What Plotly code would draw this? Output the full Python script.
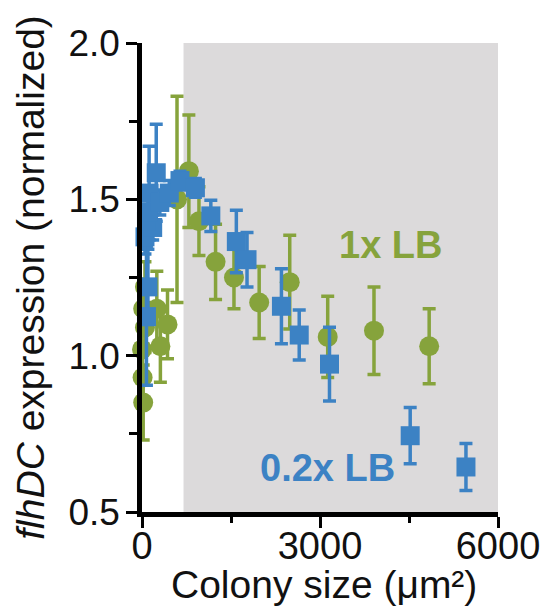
import plotly.graph_objects as go

# 1x LB (green circles)
lb1_x = [20, 10, 0, 50, 20, 50, 250, 430, 310, 590, 790, 960, 1240, 1550, 1975, 2490, 3130, 3910, 4840]
lb1_y = [0.85, 0.93, 1.02, 1.09, 1.15, 1.22, 1.15, 1.10, 1.03, 1.50, 1.59, 1.43, 1.30, 1.25, 1.17, 1.235, 1.06, 1.08, 1.03]
lb1_err = [0.12, 0.10, 0.10, 0.08, 0.08, 0.08, 0.12, 0.11, 0.115, 0.33, 0.18, 0.11, 0.12, 0.10, 0.115, 0.15, 0.13, 0.14, 0.12]

# 0.2x LB (blue squares)
lb02_x = [75, 100, 50, 180, 75, 100, 120, 240, 300, 460, 640, 900, 1160, 1590, 1770, 2350, 2650, 3160, 4520, 5460]
lb02_y = [1.125, 1.22, 1.38, 1.41, 1.43, 1.46, 1.52, 1.585, 1.49, 1.52, 1.56, 1.537, 1.447, 1.365, 1.307, 1.158, 1.066, 0.973, 0.744, 0.644]
lb02_err = [0.22, 0.12, 0.055, 0.04, 0.05, 0.05, 0.15, 0.155, 0.04, 0.04, 0.03, 0.03, 0.05, 0.10, 0.087, 0.12, 0.08, 0.118, 0.09, 0.075]

shade_range = [700, 6000]
x_ticks = [0, 3000, 6000]
y_ticks = [0.5, 1.0, 1.5, 2.0]
y_tick_text = ["0.5", "1.0", "1.5", "2.0"]

GREEN = "#86a33c"
BLUE = "#3c82c4"
SHADE = "#dcdadb"
FONT = "Liberation Sans, Arial, sans-serif"

fig = go.Figure()
fig.add_trace(go.Scatter(
    x=lb1_x, y=lb1_y, mode="markers", name="1x LB",
    marker=dict(symbol="circle", size=20, color=GREEN),
    error_y=dict(type="data", array=lb1_err, visible=True, color=GREEN, thickness=3.5, width=6.5),
    cliponaxis=False,
))
fig.add_trace(go.Scatter(
    x=lb02_x, y=lb02_y, mode="markers", name="0.2x LB",
    marker=dict(symbol="square", size=19, color=BLUE),
    error_y=dict(type="data", array=lb02_err, visible=True, color=BLUE, thickness=3.5, width=6.5),
    cliponaxis=False,
))

fig.add_shape(type="rect", xref="x", yref="y", x0=shade_range[0], x1=shade_range[1],
              y0=y_ticks[0], y1=y_ticks[-1], fillcolor=SHADE, line=dict(width=0), layer="below")

fig.add_annotation(x=0.697, y=0.569, xref="paper", yref="paper", text="<b>1x LB</b>",
                   xanchor="center", yanchor="middle",
                   showarrow=False, font=dict(size=38, color=GREEN, family=FONT))
fig.add_annotation(x=0.521, y=0.094, xref="paper", yref="paper", text="<b>0.2x LB</b>",
                   xanchor="center", yanchor="middle",
                   showarrow=False, font=dict(size=38, color=BLUE, family=FONT))

fig.add_annotation(x=-0.314, y=0.5, xref="paper", yref="paper",
                   text="<i>flhDC</i> expression (normalized)", textangle=-90,
                   xanchor="center", yanchor="middle",
                   showarrow=False, font=dict(size=39, color="#111", family=FONT))
fig.add_annotation(x=0.51, y=-0.155, xref="paper", yref="paper",
                   text="Colony size (μm²)",
                   xanchor="center", yanchor="middle",
                   showarrow=False, font=dict(size=39, color="#111", family=FONT))

axis_common = dict(showgrid=False, zeroline=False, showline=True, linecolor="black",
                   linewidth=4.5, ticks="outside", ticklen=11, tickwidth=3, tickcolor="black")
fig.update_xaxes(range=[0, 6000], tickvals=x_ticks, ticklabelstandoff=-14,
                 tickfont=dict(size=38, color="#111", family=FONT),
                 minor=dict(ticks="outside", ticklen=6, tickwidth=3, tickcolor="black", dtick=1500, tick0=0),
                 **axis_common)
fig.update_yaxes(range=[0.5, 2.0], tickvals=y_ticks, ticktext=y_tick_text, ticklabelstandoff=-1,
                 tickfont=dict(size=37, color="#111", family=FONT),
                 minor=dict(ticks="outside", ticklen=8, tickwidth=3, tickcolor="black", dtick=0.25, tick0=0.5),
                 **axis_common)

fig.update_layout(width=544, height=601, margin=dict(l=134, r=47, t=35, b=97),
                  plot_bgcolor="white", paper_bgcolor="white", showlegend=False,
                  font=dict(family=FONT))
fig.write_html("out.html")
